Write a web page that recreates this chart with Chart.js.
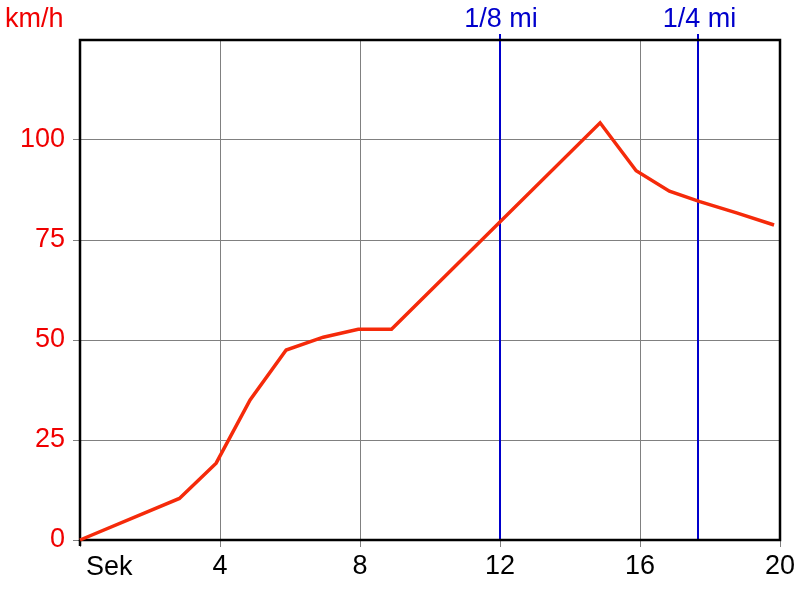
<!DOCTYPE html>
<html>
<head>
<meta charset="utf-8">
<script src="https://cdn.jsdelivr.net/npm/chart.js@4/dist/chart.umd.min.js"></script>
<style>
html,body{margin:0;padding:0;background:#fff;}
#wrap{width:800px;height:600px;}
</style>
</head>
<body>
<div id="wrap"><canvas id="c" width="800" height="600"></canvas></div>
<script>
// Data
const timesSec = [0, 2.84, 3.89, 4.86, 5.89, 6.95, 7.95, 8.9, 14.86, 15.89, 16.84, 17.71, 18.76, 19.83];
const speedKmh = [0, 10.4, 19.2, 35, 47.5, 50.7, 52.7, 52.7, 104.3, 92.3, 87.2, 84.6, 81.8, 78.75];
const markerTimes = [12.0, 17.67];
const markerLabels = ['1/8 mi', '1/4 mi'];
const yTicks = [0, 25, 50, 75, 100];
const xTicks = [0, 4, 8, 12, 16, 20];
const xFirstLabel = 'Sek';
const yUnitLabel = 'km/h';

const FONT = "'Liberation Sans', Arial, sans-serif";
const RED_TEXT = '#f00000';
const points = timesSec.map((t, i) => ({x: t, y: speedKmh[i]}));

const framePlugin = {
  id: 'frame',
  beforeDatasetsDraw(chart) {
    const {ctx, chartArea: a} = chart;
    const xs = chart.scales.x;
    ctx.save();
    ctx.strokeStyle = '#0000cc';
    ctx.lineWidth = 2;
    markerTimes.forEach(t => {
      const px = Math.round(xs.getPixelForValue(t));
      ctx.beginPath();
      ctx.moveTo(px, a.top - 6);
      ctx.lineTo(px, a.bottom);
      ctx.stroke();
    });
    ctx.strokeStyle = '#000';
    ctx.lineWidth = 2.5;
    ctx.beginPath();
    ctx.moveTo(a.left, a.top);
    ctx.lineTo(a.right, a.top);
    ctx.lineTo(a.right, a.bottom);
    ctx.lineTo(a.left, a.bottom);
    ctx.closePath();
    ctx.stroke();
    ctx.beginPath();
    ctx.moveTo(a.left, a.bottom);
    ctx.lineTo(a.left, a.bottom + 6);
    ctx.stroke();
    ctx.restore();
  },
  afterDraw(chart) {
    const {ctx, chartArea: a} = chart;
    const xs = chart.scales.x;
    ctx.save();
    ctx.textBaseline = 'alphabetic';
    ctx.font = '27px ' + FONT;
    ctx.fillStyle = RED_TEXT;
    ctx.textAlign = 'left';
    ctx.fillText(yUnitLabel, 5, 27);
    ctx.fillStyle = '#0000cc';
    ctx.textAlign = 'center';
    markerTimes.forEach((t, i) => {
      ctx.fillText(markerLabels[i], xs.getPixelForValue(t) + 1, 27);
    });
    ctx.fillStyle = '#000';
    ctx.textAlign = 'left';
    ctx.fillText(xFirstLabel, a.left + 6, 575);
    ctx.restore();
  }
};

new Chart(document.getElementById('c'), {
  type: 'line',
  data: {
    datasets: [{
      data: points,
      borderColor: '#f52a0a',
      borderWidth: 3.5,
      pointRadius: 0,
      tension: 0,
      fill: false,
      clip: false
    }]
  },
  options: {
    responsive: false,
    animation: false,
    events: [],
    layout: {padding: {top: 40, right: 20, left: 0, bottom: 0}},
    plugins: {legend: {display: false}, tooltip: {enabled: false}},
    scales: {
      x: {
        type: 'linear',
        min: 0, max: 20,
        afterFit: s => { s.height = 60; },
        afterBuildTicks: s => { s.ticks = xTicks.map(v => ({value: v})); },
        grid: {color: '#808080', lineWidth: 1, tickLength: 7, tickColor: '#808080', drawOnChartArea: true},
        border: {display: false},
        ticks: {
          color: '#000',
          font: {family: FONT, size: 27},
          padding: 3,
          maxRotation: 0,
          autoSkip: false,
          callback: v => (v === 0 ? '' : String(v))
        }
      },
      y: {
        type: 'linear',
        min: 0, max: 125,
        afterFit: s => { s.width = 80; },
        afterBuildTicks: s => { s.ticks = yTicks.map(v => ({value: v})); },
        grid: {color: '#808080', lineWidth: 1, tickLength: 7, tickColor: '#808080'},
        border: {display: false},
        ticks: {
          color: RED_TEXT,
          font: {family: FONT, size: 27},
          padding: 8,
          autoSkip: false,
          callback: v => String(v)
        }
      }
    }
  },
  plugins: [framePlugin]
});
</script>
</body>
</html>
